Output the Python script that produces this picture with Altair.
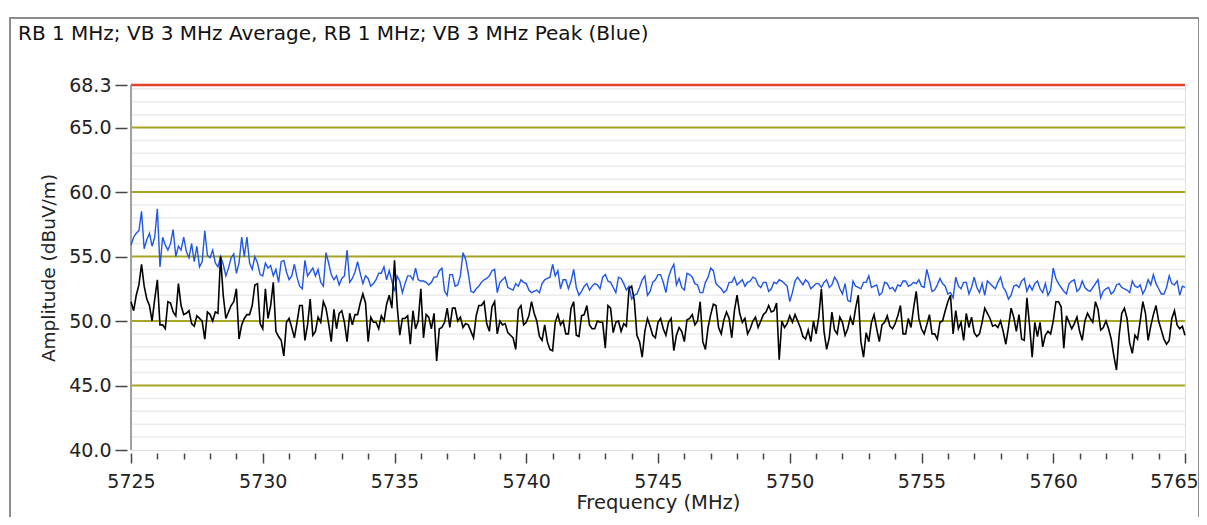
import altair as alt
import pandas as pd

TITLE = "RB 1 MHz; VB 3 MHz Average, RB 1 MHz; VB 3 MHz Peak (Blue)"

# Peak (blue) trace, read at 5725.0, 5725.2, ... 5765.0 MHz
peak_blue = [
    55.9, 56.8, 58.5, 56.3, 55.8, 58.7, 56.5, 55.5, 57.1, 55.8, 56.5, 54.9, 54.6, 54.2, 57.0, 54.9, 54.5,
    55.0, 53.5, 54.9, 53.7, 56.5, 56.5, 54.0, 54.5, 53.5, 54.1, 53.5, 53.0, 54.7, 53.2, 54.4, 52.7, 54.7,
    53.8, 53.5, 53.0, 55.3, 53.6, 53.5, 53.3, 55.5, 53.3, 54.6, 52.9, 53.3, 52.9, 53.7, 54.2, 53.9, 52.3,
    53.1, 52.9, 53.5, 54.1, 53.1, 53.0, 53.0, 53.4, 54.1, 52.0, 53.6, 52.8, 55.3, 53.7, 52.2, 52.7, 53.2,
    53.5, 54.0, 53.0, 53.4, 52.5, 52.9, 53.2, 52.9, 52.2, 52.4, 52.9, 53.3, 54.4, 53.9, 53.2, 52.5, 54.0,
    52.0, 52.7, 52.4, 52.9, 52.5, 53.6, 53.0, 52.2, 53.3, 52.4, 51.7, 52.1, 53.2, 52.0, 53.0, 53.6,
    53.0, 53.4, 54.4, 53.3, 52.4, 53.6, 52.9, 52.2, 53.0, 54.1, 52.9, 52.5, 52.4, 53.0, 52.8, 53.2, 53.0,
    53.4, 52.8, 53.0, 52.3, 53.0, 53.2, 52.9, 51.5, 53.1, 53.1, 53.2, 52.5, 52.9, 52.6, 53.2, 52.8, 53.1,
    52.1, 51.6, 53.1, 52.6, 53.0, 53.5, 52.7, 52.0, 53.0, 52.5, 52.3, 52.7, 53.1, 52.8, 52.9, 52.7, 54.0,
    52.3, 52.8, 52.9, 52.1, 51.8, 52.7, 53.0, 52.1, 53.4, 52.2, 52.0, 52.9, 52.5, 53.4, 52.3, 52.0,
    52.8, 53.1, 52.3, 52.4, 53.1, 52.2, 52.0, 54.1, 52.9, 52.3, 52.9, 53.2, 52.5, 52.6, 52.3, 52.9, 51.8,
    52.5, 52.1, 52.8, 52.6, 52.4, 53.1, 52.6, 52.1, 53.2, 53.6, 52.5, 52.1, 53.5, 52.8, 52.0, 52.6,
]
# Peak (blue) trace, read at 5725.1, 5725.3, ... 5764.9 MHz
peak_blue_mid = [
    56.5, 57.0, 55.6, 56.8, 56.5, 54.2, 55.9, 56.0, 55.0, 55.5, 55.4, 56.0, 55.8, 54.6, 55.1, 55.5, 54.2,
    54.4, 54.1, 55.2, 54.5, 55.0, 54.5, 55.0, 53.6, 54.5, 54.3, 54.0, 54.6, 53.8, 53.5, 53.4, 52.5, 53.5,
    54.1, 54.0, 52.7, 54.5, 53.2, 52.8, 53.5, 53.0, 53.8, 53.7, 53.5, 52.7, 53.2, 53.7, 53.2, 53.1, 53.5,
    52.2, 53.5, 53.2, 53.2, 53.1, 52.8, 53.4, 53.9, 52.3, 53.6, 52.7, 53.5, 54.8, 52.3, 52.5, 53.0, 53.3,
    53.9, 52.2, 53.2, 52.6, 52.4, 52.7, 53.0, 52.4, 52.3, 52.2, 53.2, 53.4, 53.5, 52.5, 53.2, 53.1, 52.6,
    52.3, 52.9, 52.7, 52.8, 53.4, 53.1, 52.6, 53.4, 52.9, 52.7, 52.0, 52.6, 53.5, 52.3, 53.2,
    53.6, 52.2, 54.0, 52.8, 52.6, 53.7, 53.4, 52.8, 52.2, 53.4, 53.9, 52.7, 52.2, 53.0, 53.4, 53.0, 52.7,
    53.1, 53.3, 52.6, 53.0, 52.5, 52.9, 53.1, 52.7, 52.2, 53.4, 52.8, 53.0, 52.7, 52.9, 53.0, 52.6, 53.4,
    52.5,
    52.9, 51.5, 52.7, 52.5, 53.0, 52.6, 52.8, 52.2, 52.9, 52.6, 52.8, 53.1, 52.7, 53.0, 53.2, 52.6, 53.2,
    52.4, 53.3, 52.7, 52.2, 53.4, 52.5, 53.0, 52.6, 52.6, 52.9, 53.1, 52.7, 53.0, 52.6, 51.7, 52.7,
    52.6, 53.3, 52.8, 52.9, 52.5, 52.9, 52.4, 53.3, 52.6, 52.1, 53.1, 52.3, 53.1, 52.4, 52.6, 53.2, 52.3,
    52.6, 52.3, 52.9, 52.5, 52.2, 52.7, 52.8, 52.5, 52.8, 52.9, 52.1, 52.6, 52.9, 53.1, 52.7,
]

# Average (black) trace, read at 5725.0, 5725.2, ... 5765.0 MHz
avg_black = [
    51.5, 52.0, 54.4, 51.7, 50.0, 53.2, 49.7, 51.5, 50.7, 52.9, 50.5, 50.8, 49.6, 50.2, 48.6, 50.5, 50.7,
    55.0, 50.2, 51.2, 52.5, 49.7, 50.5, 51.2, 52.9, 49.4, 50.2, 53.0, 48.8, 47.3, 50.2, 48.7, 51.2, 48.5,
    51.7, 49.2, 49.9, 51.0, 48.4, 49.4, 50.8, 48.4, 49.7, 50.5, 52.1, 48.4, 49.9, 49.4, 50.0, 52.0, 54.7,
    48.9, 50.2, 48.2, 49.4, 52.5, 50.5, 49.4, 46.9, 49.5, 51.0, 51.0, 50.0, 49.5, 49.7, 48.7, 51.2, 51.5,
    49.2, 51.5, 50.0, 49.8, 48.9, 47.8, 51.2, 49.9, 51.5, 50.0, 48.5, 48.4, 47.7, 50.5, 50.0, 49.0, 51.5,
    48.8, 50.5, 49.7, 49.4, 49.9, 47.9, 51.0, 49.9, 49.2, 49.6, 52.7, 48.9, 47.2, 50.2, 48.9, 49.9,
    49.4, 49.9, 47.7, 49.5, 48.4, 50.2, 49.7, 51.5, 47.8, 50.5, 51.2, 49.0, 50.7, 48.7, 52.0, 49.9, 49.0,
    50.0, 49.5, 50.5, 51.2, 50.8, 47.0, 49.5, 50.4, 50.5, 49.5, 48.6, 48.4, 49.0, 52.5, 47.8, 50.7, 49.0,
    49.9, 49.4, 49.7, 52.0, 47.2, 48.4, 50.5, 48.4, 49.9, 49.6, 49.8, 51.2, 49.0, 49.5, 52.3, 49.4, 49.7,
    49.0, 48.6, 50.0, 51.5, 49.0, 49.4, 48.5, 49.5, 49.1, 49.0, 51.0, 50.2, 49.7, 50.0, 48.2, 51.0,
    49.2, 48.6, 51.8, 47.2, 48.8, 48.0, 49.2, 50.0, 51.5, 47.9, 49.9, 49.8, 49.2, 50.0, 50.2, 51.5, 49.3,
    50.0, 48.6, 46.2, 50.6, 50.2, 47.5, 48.6, 51.5, 48.5, 50.5, 50.0, 48.6, 48.5, 50.8, 49.4, 48.9,
]
# Average (black) trace, read at 5725.1, 5725.3, ... 5764.9 MHz
avg_black_mid = [
    50.8, 52.8, 52.7, 51.2, 51.7, 49.7, 49.4, 51.4, 50.4, 51.2, 50.6, 49.8, 50.4, 50.0, 50.7, 50.0, 50.6,
    52.0, 50.7, 51.5, 48.6, 50.2, 50.5, 52.8, 49.8, 52.5, 51.2, 49.2, 48.5, 49.9, 49.5, 49.9, 51.2, 49.7,
    48.9, 50.3, 51.5, 49.8, 50.9, 50.6, 49.9, 50.6, 50.5, 51.4, 51.4, 50.3, 49.9, 50.4, 51.3, 51.0, 51.2,
    50.2, 50.4, 50.8, 50.0, 48.7, 50.3, 50.6, 49.4, 49.9, 49.5, 51.0, 50.3, 49.8, 49.2, 50.4, 51.2, 49.8,
    51.1, 49.0, 49.7, 49.1, 48.7, 50.9, 49.7, 50.4, 50.6, 48.8, 49.7, 47.8, 49.9, 49.7, 49.0, 51.0, 48.9,
    50.4, 51.2, 49.4, 50.0, 49.9, 51.2, 49.1, 50.0, 49.8, 52.5, 51.6, 48.4, 49.2, 49.6, 48.7,
    50.2, 48.9, 50.2, 48.9, 49.2, 50.1, 50.5, 50.0, 48.4, 49.5, 51.3, 49.5, 50.1, 50.2, 50.8, 50.6, 50.2,
    49.4, 50.3, 50.0, 50.7, 50.7, 51.4, 50.0, 49.8, 49.9, 50.0, 48.8, 49.3, 50.0, 50.3, 49.2, 48.7, 49.3,
    50.3,
    48.9, 50.3, 51.0, 48.4, 49.1, 49.9, 49.4, 49.7, 50.4, 49.4, 50.4, 49.0, 50.2, 51.0, 50.2, 49.0, 50.5,
    49.0, 49.9, 50.8, 52.0, 50.8, 49.9, 50.6, 50.3, 48.8, 49.9, 50.6, 49.6, 49.5, 49.2, 49.5, 50.3,
    50.5, 48.5, 49.7, 49.9, 49.9, 48.9, 49.0, 51.5, 51.1, 50.4, 49.4, 50.3, 48.5, 50.6, 49.9, 50.9, 49.5,
    49.4, 47.3, 48.9, 51.0, 48.3, 48.9, 50.0, 50.6, 49.6, 51.2, 49.3, 48.2, 50.2, 49.7, 49.6,
]

y_ticks = [40.0, 45.0, 50.0, 55.0, 60.0, 65.0, 68.3]
x_ticks = [5725 + 0.5 * i for i in range(81)]
x_start = [5725]
major_levels = [45, 50, 55, 60, 65]
minor_levels = [v for v in range(41, 69) if v % 5 != 0]
limit_level = [68.3]

f_grid = [round(5725.0 + 0.2 * i, 1) for i in range(len(peak_blue))]
f_mid = [round(5725.1 + 0.2 * i, 1) for i in range(len(peak_blue_mid))]
peak_df = pd.DataFrame({"f": f_grid + f_mid, "v": peak_blue + peak_blue_mid}).sort_values("f")
avg_df = pd.DataFrame({"f": f_grid + f_mid, "v": avg_black + avg_black_mid}).sort_values("f")

xs = alt.Scale(domain=[5725, 5765], nice=False, zero=False)
ys = alt.Scale(domain=[40, 68.3], nice=False, zero=False)
FONT = "DejaVu Sans"

y_axis = alt.Axis(
    values=y_ticks, format=".1f", labelFontSize=19, labelColor="#222", labelFont=FONT,
    tickSize=12, tickColor="#444", tickWidth=1.5, domain=False, grid=False, offset=4,
    title="Amplitude (dBuV/m)", titleFontSize=18.5, titleFontWeight="normal",
    titleColor="#222", titleFont=FONT, titlePadding=10, labelPadding=4, orient="left",
    labelFlush=False, labelOverlap=False)

x_axis = alt.Axis(
    values=x_ticks, format="d",
    labelExpr="datum.value % 5 === 0 ? format(datum.value, 'd') : ''",
    labelFontSize=19, labelColor="#222", labelFont=FONT, labelFlush=False, labelOverlap=False,
    labelOffset={"condition": {"test": "datum.value === 5765", "value": -11}, "value": 0},
    tickSize={"condition": {"test": "datum.value % 5 === 0", "value": 10}, "value": 6},
    tickColor="#444", tickWidth=1.5, domain=False, grid=False,
    title="Frequency (MHz)", titleFontSize=19.5, titleFontWeight="normal", titleColor="#222",
    titleFont=FONT, titlePadding=2, offset=3, labelPadding=9, orient="bottom")

minor_grid = alt.Chart(pd.DataFrame({"lvl": minor_levels})).mark_rule(
    color="#ebebeb", strokeWidth=1.5
).encode(y=alt.Y("lvl:Q", scale=ys, axis=y_axis))

major_grid = alt.Chart(pd.DataFrame({"lvl": major_levels})).mark_rule(
    color="#a8a424", strokeWidth=2
).encode(y=alt.Y("lvl:Q", scale=ys, axis=y_axis))

limit = alt.Chart(pd.DataFrame({"lvl": limit_level})).mark_rule(
    color="#e2412c", strokeWidth=2.5
).encode(y=alt.Y("lvl:Q", scale=ys, axis=y_axis))

y_line = alt.Chart(pd.DataFrame({"f0": x_start})).mark_rule(
    color="#a0a0a0", strokeWidth=2
).encode(x=alt.X("f0:Q", scale=xs, axis=x_axis))

blue = alt.Chart(peak_df).mark_line(color="#1f55e8", strokeWidth=1.4).encode(
    x=alt.X("f:Q", scale=xs, axis=x_axis),
    y=alt.Y("v:Q", scale=ys, axis=y_axis),
)

black = alt.Chart(avg_df).mark_line(color="#000000", strokeWidth=1.6).encode(
    x=alt.X("f:Q", scale=xs, axis=x_axis),
    y=alt.Y("v:Q", scale=ys, axis=y_axis),
)

frame = alt.Chart(pd.DataFrame({"k": [0]})).mark_rect(
    fill="transparent", stroke="#8c8c8c", strokeWidth=2
).encode(x=alt.value(-121), x2=alt.value(1068), y=alt.value(-67), y2=alt.value(520))

chart = alt.layer(minor_grid, major_grid, limit, y_line, blue, black, frame).properties(
    width=1054, height=365,
    title=alt.TitleParams(TITLE, anchor="start", frame="group", dx=-113, offset=-43,
                          baseline="alphabetic", fontSize=20, fontWeight="normal",
                          font=FONT, color="#111"),
    autosize=alt.AutoSizeParams(type="none"),
    padding={"left": 123, "top": 77, "right": 14, "bottom": 67},
).configure_view(stroke=None).configure(font=FONT, background="white")

chart.save("out.html", embed_options={"renderer": "svg", "actions": False})
